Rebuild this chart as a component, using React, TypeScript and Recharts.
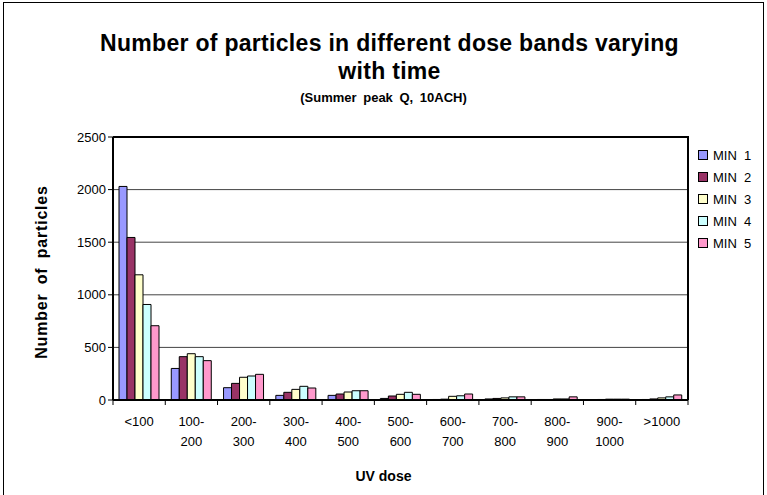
import React from "react";
import { BarChart, Bar, XAxis, YAxis, CartesianGrid } from "recharts";

const bands = ["<100", "100-200", "200-300", "300-400", "400-500", "500-600", "600-700", "700-800", "800-900", "900-1000", ">1000"];
const min1 = [2030, 300, 117, 44, 44, 15, 5, 10, 5, 3, 5];
const min2 = [1545, 412, 158, 73, 57, 38, 8, 15, 5, 5, 10];
const min3 = [1190, 440, 216, 101, 76, 54, 35, 20, 10, 8, 20];
const min4 = [908, 412, 228, 130, 88, 73, 40, 30, 10, 8, 30];
const min5 = [706, 374, 244, 114, 88, 54, 57, 30, 30, 8, 48];
const yTicks = [0, 500, 1000, 1500, 2000, 2500];
const seriesNames = ["MIN  1", "MIN  2", "MIN  3", "MIN  4", "MIN  5"];
const colors = ["#9999FF", "#993366", "#FFFFCC", "#CCFFFF", "#FF99CC"];

const data = bands.map((b, i) => ({
  band: b,
  m1: min1[i], m2: min2[i], m3: min3[i], m4: min4[i], m5: min5[i],
}));

const FONT = "'Liberation Sans', Arial, sans-serif";
const W = 767, H = 495;
const PL = 113, PR = 688, PT = 137, PB = 400;
const band = (PR - PL) / bands.length;

function XTick(props: any) {
  const { x, y, payload, index } = props;
  const v: string = payload.value;
  const parts = v.includes("-") ? [v.slice(0, v.indexOf("-") + 1), v.slice(v.indexOf("-") + 1)] : [v];
  const left = x - band / 2;
  return (
    <g>
      <line x1={left} x2={left} y1={PB} y2={PB + 5} stroke="#000" />
      {index === bands.length - 1 && <line x1={x + band / 2} x2={x + band / 2} y1={PB} y2={PB + 5} stroke="#000" />}
      {parts.map((p, i) => (
        <text key={i} x={x} y={y + 18 + i * 20} textAnchor="middle" fontSize={13} fontFamily={FONT} fill="#000">{p}</text>
      ))}
    </g>
  );
}

export default function App() {
  return (
    <div style={{ position: "relative", width: W, height: H, background: "#fff", fontFamily: FONT }}>
      <style>{"html,body{margin:0;padding:0;background:#fff}"}</style>
      <svg width={W} height={H} style={{ position: "absolute", left: 0, top: 0 }}>
        <rect x={3.5} y={2.5} width={760} height={500} fill="#fff" stroke="#000" strokeWidth={1} />
      </svg>
      <div style={{ position: "absolute", left: 0, top: 0 }}>
        <BarChart width={W} height={H} data={data} margin={{ top: PT, right: W - PR, bottom: 55, left: 53 }} barSize={8} barGap={0}>
          <CartesianGrid vertical={false} stroke="#444" strokeWidth={1} />
          <XAxis dataKey="band" interval={0} tickLine={false} axisLine={{ stroke: "#000", strokeWidth: 2 }} tick={<XTick />} height={40} />
          <YAxis domain={[0, 2500]} ticks={yTicks} width={60} tickSize={5} tickLine={{ stroke: "#000" }} axisLine={{ stroke: "#000", strokeWidth: 2 }} tick={{ fontSize: 13, fontFamily: FONT, fill: "#000" }} />
          {["m1", "m2", "m3", "m4", "m5"].map((k, i) => (
            <Bar key={k} dataKey={k} name={seriesNames[i]} fill={colors[i]} stroke="#000" strokeWidth={1} isAnimationActive={false} />
          ))}
        </BarChart>
      </div>
      <div style={{ position: "absolute", zIndex: 2, left: 6, width: W, top: 29, textAlign: "center", fontSize: 23, fontWeight: "bold", lineHeight: "28px", letterSpacing: 0.3 }}>
        Number of particles in different dose bands varying<br />with time
      </div>
      <div style={{ position: "absolute", zIndex: 2, left: 0, width: W, top: 90, textAlign: "center", fontSize: 13, fontWeight: "bold", wordSpacing: 3 }}>
        (Summer peak Q, 10ACH)
      </div>
      <div style={{ position: "absolute", zIndex: 2, left: 42, top: 272, transform: "translate(-50%, -50%) rotate(-90deg)", whiteSpace: "nowrap", fontSize: 16, fontWeight: "bold", letterSpacing: 0.8, wordSpacing: 4 }}>
        Number of particles
      </div>
      <div style={{ position: "absolute", zIndex: 2, left: 0, width: W, top: 468, textAlign: "center", fontSize: 14, fontWeight: "bold" }}>
        UV dose
      </div>
      <div style={{ position: "absolute", zIndex: 2, left: PL, top: PT - 1, width: PR - PL + 1, height: PB - PT + 1, borderTop: "2px solid #000", borderRight: "2px solid #000", boxSizing: "border-box", pointerEvents: "none" }} />
      <div style={{ position: "absolute", zIndex: 2, left: 698, top: 144 }}>
        {seriesNames.map((n, i) => (
          <div key={n} style={{ display: "flex", alignItems: "center", height: 22, fontSize: 13, whiteSpace: "pre" }}>
            <span style={{ display: "inline-block", width: 8, height: 8, background: colors[i], border: "1px solid #000", marginRight: 5 }} />
            {n}
          </div>
        ))}
      </div>
    </div>
  );
}
